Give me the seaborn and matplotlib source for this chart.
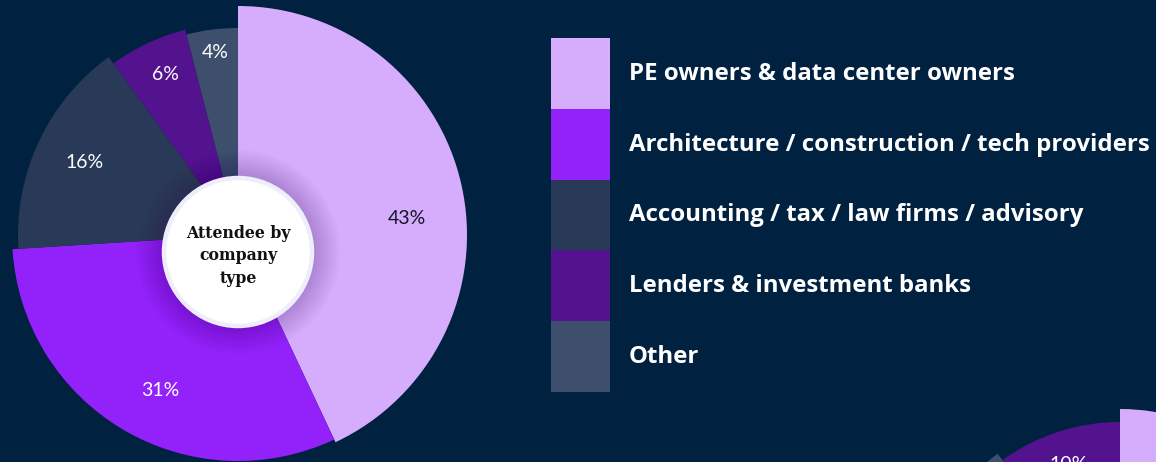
import matplotlib
matplotlib.use("Agg")
import matplotlib.pyplot as plt
import seaborn as sns
from matplotlib.patches import Circle, Patch
import numpy as np

# ---- data ----
categories = ["PE owners & data center owners",
              "Architecture / construction / tech providers",
              "Accounting / tax / law firms / advisory",
              "Lenders & investment banks",
              "Other"]
shares = [43, 31, 16, 6, 4]
colors = ["#d6adfc", "#9321fa", "#293a58", "#54138e", "#3e4f6d"]
center_title = "Attendee by\ncompany\ntype"

# partially visible second chart (bottom-right, clipped)
second_shares = [40, 30, 14, 6, 10]
second_colors = ["#d6adfc", "#9321fa", "#293a58", "#3e4f6d", "#54138e"]

BG = "#00213f"
W, H = 1156, 462

sns.set_theme(style="white")
plt.rcParams["font.family"] = ["Lato", "DejaVu Sans"]

fig = plt.figure(figsize=(W / 100, H / 100), dpi=100, facecolor=BG)
ax = fig.add_axes([0, 0, 1, 1])
ax.set_facecolor(BG)

# ---- main pie with varying radii ----
cx, cy = 238, H - 235
radii = [229, 226, 220, 212, 207]
wedges, _ = ax.pie(shares, colors=colors, startangle=90, counterclock=False,
                   center=(cx, cy), radius=radii[0], frame=True,
                   wedgeprops=dict(linewidth=0, edgecolor="none"))
for w, r in zip(wedges, radii):
    w.set_radius(r)

label_frac = [0.74, 0.77, 0.77, 0.83, 0.89]
label_dang = [-7, 4, 0, -1, 0]
label_col = ["#151528", "white", "white", "white", "white"]
for w, v, f, da, c in zip(wedges, shares, label_frac, label_dang, label_col):
    th = np.deg2rad((w.theta1 + w.theta2) / 2 + da)
    ax.text(cx + f * w.r * np.cos(th), cy + f * w.r * np.sin(th), f"{v}%",
            ha="center", va="center", fontsize=14, color=c, family=["Lato", "DejaVu Sans"])

# soft shadow around the centre disc
ccx, ccy = 238, H - 252
for k in range(14):
    ax.add_patch(Circle((ccx, ccy), 76 + k * 2.0, facecolor="#2a0052",
                        alpha=0.016, lw=0, zorder=3))
ax.add_patch(Circle((ccx, ccy), 74, facecolor="white", edgecolor="#eeeefb",
                    lw=3.2, zorder=4))
ax.text(ccx, ccy - 4, center_title, ha="center", va="center", fontsize=11.3,
        fontweight="bold", family=["DejaVu Serif"], color="#111111",
        linespacing=1.45, zorder=5)

# ---- partial second chart ----
c2x, c2y = 1120, H - 622
radii2 = [213, 205, 205, 208, 200]
wedges2, _ = ax.pie(second_shares, colors=second_colors, startangle=90,
                    counterclock=False, center=(c2x, c2y), radius=radii2[0],
                    frame=True, wedgeprops=dict(linewidth=0, edgecolor="none"))
for w, r in zip(wedges2, radii2):
    w.set_radius(r)
w = wedges2[-1]
th = np.deg2rad((w.theta1 + w.theta2) / 2)
ax.text(c2x + 0.826 * w.r * np.cos(th), c2y + 0.826 * w.r * np.sin(th),
        f"{second_shares[-1]}%", ha="center", va="center", fontsize=14,
        color="white")

# ---- legend ----
handles = [Patch(facecolor=c, edgecolor="none") for c in colors]
leg = ax.legend(handles, categories, loc="upper left",
                bbox_to_anchor=(551 / W, 1 - 38 / H), bbox_transform=fig.transFigure,
                frameon=False, borderpad=0, borderaxespad=0, labelspacing=0,
                handlelength=2.46, handleheight=4.158, handletextpad=0.79,
                prop=dict(family=["Open Sans", "DejaVu Sans"], weight="bold", size=17.3))
for t in leg.get_texts():
    t.set_color("white")

ax.set_xlim(0, W)
ax.set_ylim(0, H)
ax.set_aspect("equal")
ax.set_axis_off()

fig.savefig("out.png", dpi=100, facecolor=BG)
